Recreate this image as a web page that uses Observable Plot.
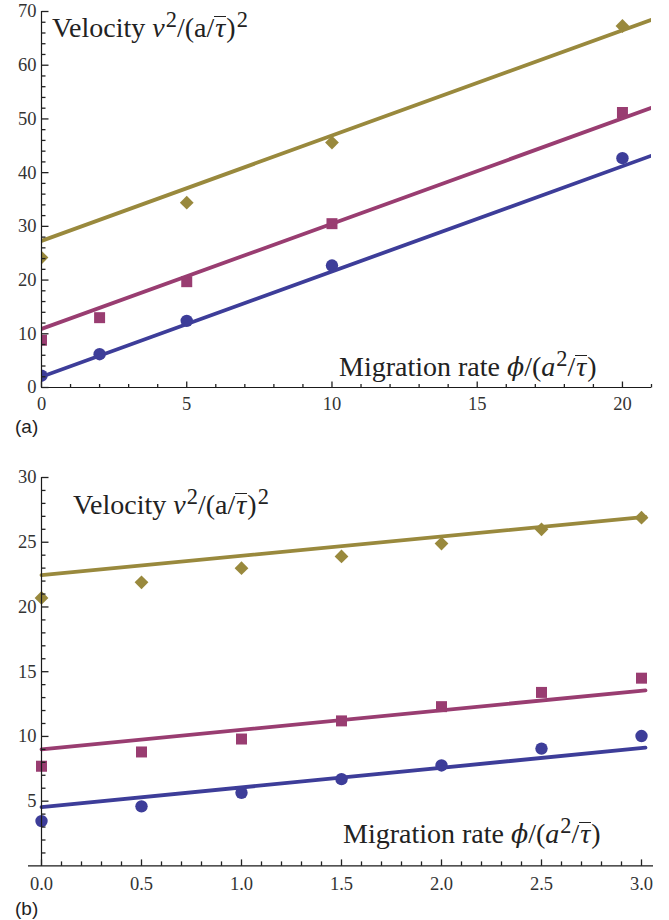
<!DOCTYPE html>
<html>
<head>
<meta charset="utf-8">
<script src="https://cdn.jsdelivr.net/npm/d3@7"></script>
<script src="https://cdn.jsdelivr.net/npm/@observablehq/plot@0.6"></script>
<style>
  html, body { margin: 0; padding: 0; background: #fff; }
  #wrap { position: relative; width: 669px; height: 920px; overflow: hidden; background: #fff; }
  .panel { position: absolute; left: 0; }
  .lbl { position: absolute; font-family: "Liberation Serif", "Times New Roman", serif; font-size: 28px; line-height: 28px; color: #222; white-space: nowrap; }
  .lbl sup { font-size: 0.8em; position: relative; top: -0.45em; vertical-align: baseline; line-height: 0; margin-left: 1px; }
  .ob { display: inline-block; border-top: 1.5px solid #222; line-height: 0.75em; padding: 0 1px; }
  .phi { font-family: "DejaVu Serif", serif; font-size: 0.9em; }
  .tag { position: absolute; font-family: "Liberation Sans", Arial, sans-serif; font-size: 19px; line-height: 20px; color: #222; }
</style>
</head>
<body>
<div id="wrap">
  <div id="pa" class="panel" style="top:0"></div>
  <div id="pb" class="panel" style="top:460px"></div>
  <div class="lbl" style="left:52px; top:14px">Velocity <i>v</i><sup>2</sup>/(a/<i class="ob">τ</i>)<sup>2</sup></div>
  <div class="lbl" style="left:339px; top:353px">Migration rate <i class="phi">ϕ</i>/(<i>a</i><sup>2</sup>/<i class="ob">τ</i>)</div>
  <div class="tag" style="left:15px; top:417px">(a)</div>
  <div class="lbl" style="left:73px; top:491px">Velocity <i>v</i><sup>2</sup>/(a/<i class="ob">τ</i>)<sup>2</sup></div>
  <div class="lbl" style="left:343px; top:820px">Migration rate <i class="phi">ϕ</i>/(<i>a</i><sup>2</sup>/<i class="ob">τ</i>)</div>
  <div class="tag" style="left:15px; top:899px">(b)</div>
</div>
<script>
// ---- series styling ----
const seriesNames = ["blue", "magenta", "olive"];
const seriesColors = ["#3d3d99", "#993d71", "#99893d"];
const seriesSymbols = ["circle", "square", "diamond2"];

// ---- panel (a) data ----
const xA_blue = [0, 2, 5, 10, 20];
const yA_blue = [2.2, 6.2, 12.4, 22.7, 42.7];
const xA_magenta = [0, 2, 5, 10, 20];
const yA_magenta = [8.8, 13.0, 19.7, 30.5, 51.2];
const xA_olive = [0, 5, 10, 20];
const yA_olive = [24.2, 34.4, 45.6, 67.3];
const fitA_intercept = [2.0, 10.9, 27.3];
const fitA_slope = [1.96, 1.96, 1.96];
const fitA_xEnd = 21;
const xDomainA = [0, 21];
const yDomainA = [0, 70];
const xMajorA = [0, 5, 10, 15, 20];
const xMinorA = d3.range(0, 22, 1);
const yMajorA = [0, 10, 20, 30, 40, 50, 60, 70];
const yMinorA = d3.range(0, 71, 2);

// ---- panel (b) data ----
const xB = [0, 0.5, 1, 1.5, 2, 2.5, 3];
const yB_blue = [3.46, 4.6, 5.65, 6.7, 7.76, 9.06, 10.03];
const yB_magenta = [7.7, 8.8, 9.8, 11.2, 12.3, 13.4, 14.5];
const yB_olive = [20.7, 21.9, 23.0, 23.9, 24.9, 26.0, 26.9];
const fitB_intercept = [4.54, 9.0, 22.46];
const fitB_slope = [1.52, 1.51, 1.49];
const fitB_xEnd = 3.02;
const xDomainB = [-0.065, 3.06];
const yDomainB = [0, 30];
const xMajorB = [0, 0.5, 1, 1.5, 2, 2.5, 3];
const xMinorB = d3.range(0, 31, 1).map(d => d / 10);
const yMajorB = [5, 10, 15, 20, 25, 30];
const yMinorB = d3.range(1, 31, 1);

// ---- build tables ----
function pts(xs, ys, i) { return xs.map((x, k) => ({x, y: ys[k], s: seriesNames[i]})); }
const ptsA = [
  ...pts(xA_blue, yA_blue, 0),
  ...pts(xA_magenta, yA_magenta, 1),
  ...pts(xA_olive, yA_olive, 2)
];
const ptsB = [
  ...pts(xB, yB_blue, 0),
  ...pts(xB, yB_magenta, 1),
  ...pts(xB, yB_olive, 2)
];
function fits(intercepts, slopes, xEnd) {
  return intercepts.flatMap((a, i) => [0, xEnd].map(x => ({x, y: a + slopes[i] * x, s: seriesNames[i]})));
}
const fitA = fits(fitA_intercept, fitA_slope, fitA_xEnd);
const fitB = fits(fitB_intercept, fitB_slope, fitB_xEnd);

const axisColor = "#1a1a1a";
const tickColor = "#222";
const labelColor = "#333";
const serif = "Liberation Serif, Times New Roman, serif";
const tickFont = 18.5;

function seriesMarks(points, fitPts) {
  const out = [];
  seriesNames.forEach((name, i) => {
    out.push(Plot.dot(points.filter(d => d.s === name), {x: "x", y: "y", r: 6.2, symbol: () => seriesSymbols[i], fill: seriesColors[i], stroke: "none", clip: true}));
  });
  seriesNames.forEach((name, i) => {
    out.push(Plot.line(fitPts.filter(d => d.s === name), {x: "x", y: "y", stroke: seriesColors[i], strokeWidth: 3.8, clip: true}));
  });
  return out;
}

// Mathematica-style axes with inward ticks; tick lengths in pixels, converted via px-per-unit
function axisMarks({pxX, pxY, xMajor, xMinor, yMajor, yMinor, xFmt, majX, minX, majY, minY, labelDy}) {
  const xt = xMinor.map(v => ({v, len: xMajor.some(m => Math.abs(m - v) < 1e-9) ? majX : minX}));
  const yt = yMinor.map(v => ({v, len: yMajor.some(m => Math.abs(m - v) < 1e-9) ? majY : minY}));
  return [
    Plot.ruleY([0], {stroke: axisColor, strokeWidth: 1.2}),
    Plot.ruleX([0], {stroke: axisColor, strokeWidth: 1.2}),
    Plot.link(xt, {x1: "v", x2: "v", y1: () => 0, y2: d => d.len / pxY, stroke: tickColor, strokeWidth: 1.3}),
    Plot.link(yt, {y1: "v", y2: "v", x1: () => 0, x2: d => d.len / pxX, stroke: tickColor, strokeWidth: 1.3}),
    Plot.text(xMajor, {x: d => d, y: () => 0, dy: labelDy, text: xFmt, fill: labelColor, fontFamily: serif, fontSize: tickFont}),
    Plot.text(yMajor, {y: d => d, x: () => 0, dx: -5, textAnchor: "end", text: d => String(d), fill: labelColor, fontFamily: serif, fontSize: tickFont})
  ];
}

// Panel (a)
const A = {width: 669, height: 420, ml: 41, mr: 18, mt: 11, mb: 33};
const pxXA = (A.width - A.ml - A.mr) / (xDomainA[1] - xDomainA[0]);
const pxYA = (A.height - A.mt - A.mb) / (yDomainA[1] - yDomainA[0]);
const plotA = Plot.plot({
  width: A.width, height: A.height,
  marginLeft: A.ml, marginRight: A.mr, marginTop: A.mt, marginBottom: A.mb,
  style: {background: "transparent", overflow: "visible"},
  x: {domain: xDomainA, axis: null},
  y: {domain: yDomainA, axis: null},
  symbol: {type: "identity"},
  marks: [
    ...seriesMarks(ptsA, fitA),
    ...axisMarks({
      pxX: pxXA, pxY: pxYA,
      xMajor: xMajorA, xMinor: xMinorA, yMajor: yMajorA, yMinor: yMinorA,
      xFmt: d => String(d), majX: 6, minX: 3.5, majY: 7, minY: 4, labelDy: 17
    })
  ]
});
document.getElementById("pa").appendChild(plotA);

// Panel (b)
const B = {width: 669, height: 460, ml: 28, mr: 16, mt: 17, mb: 54.6};
const pxXB = (B.width - B.ml - B.mr) / (xDomainB[1] - xDomainB[0]);
const pxYB = (B.height - B.mt - B.mb) / (yDomainB[1] - yDomainB[0]);
const plotB = Plot.plot({
  width: B.width, height: B.height,
  marginLeft: B.ml, marginRight: B.mr, marginTop: B.mt, marginBottom: B.mb,
  style: {background: "transparent", overflow: "visible"},
  x: {domain: xDomainB, axis: null},
  y: {domain: yDomainB, axis: null},
  symbol: {type: "identity"},
  marks: [
    ...seriesMarks(ptsB, fitB),
    ...axisMarks({
      pxX: pxXB, pxY: pxYB,
      xMajor: xMajorB, xMinor: xMinorB, yMajor: yMajorB, yMinor: yMinorB,
      xFmt: d3.format(".1f"), majX: 6.5, minX: 4.5, majY: 7, minY: 4, labelDy: 18
    })
  ]
});
document.getElementById("pb").appendChild(plotB);
</script>
</body>
</html>
